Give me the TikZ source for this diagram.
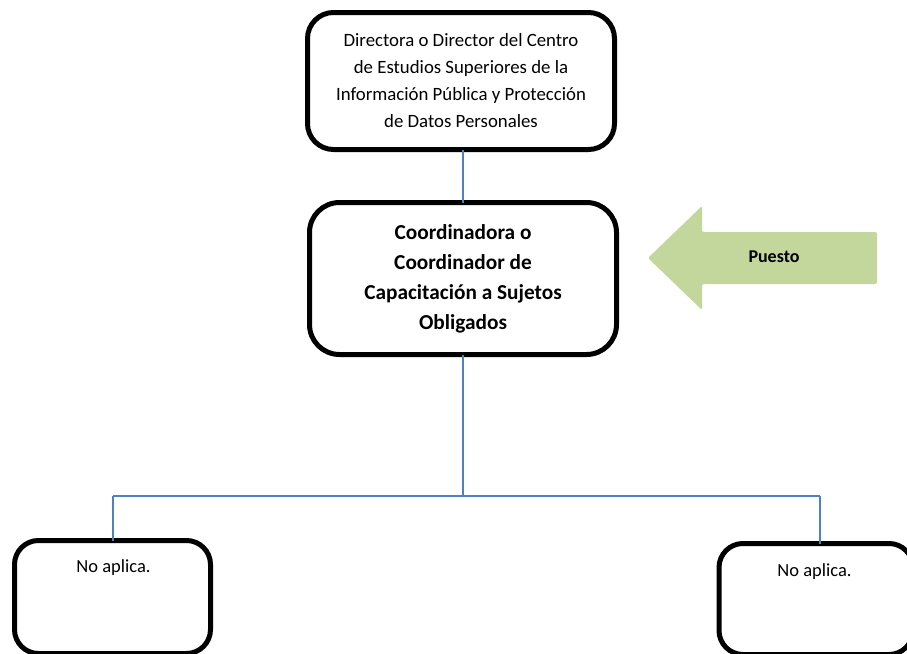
\documentclass[tikz,border=0pt]{standalone}
\usepackage{fontspec}
\setmainfont{Carlito}
\definecolor{conn}{RGB}{79,129,189}
\definecolor{arrowgreen}{RGB}{195,214,155}
\begin{document}
\begin{tikzpicture}[x=1pt,y=-1pt,
  box/.style={draw=black,line width=5pt,rounded corners=26pt,inner sep=0pt,outer sep=0pt,align=center},
  conline/.style={draw=conn,line width=1.8pt},
  toptext/.style={font=\fontsize{18.8}{27}\selectfont},
  midtext/.style={font=\fontsize{21.3}{30}\selectfont\bfseries},
  smalltext/.style={font=\fontsize{18.5}{20}\selectfont,inner sep=0pt}]
\useasboundingbox (0,0) rectangle (907,653);
\clip (0,0) rectangle (907,653);
\node[box,toptext,minimum width=307pt,minimum height=137pt] (top) at (461,81)
  {Directora o Director del Centro\\de Estudios Superiores de la\\Información Pública y Protección\\de Datos Personales};
\node[box,midtext,minimum width=307pt,minimum height=152pt,rounded corners=30pt] (mid) at (463,278.5)
  {Coordinadora o\\Coordinador de\\Capacitación a Sujetos\\Obligados};
\node[box,minimum width=196pt,minimum height=113pt,rounded corners=24pt] (left) at (112.5,597) {};
\node[box,minimum width=194pt,minimum height=111pt,rounded corners=24pt] (right) at (816,599) {};
\node[smalltext] (lt) at (113.5,568) {No aplica.};
\node[smalltext] (rt) at (814.5,572) {No aplica.};
\coordinate (hub) at (463,496);
\coordinate (lturn) at (113,496);
\coordinate (rturn) at (820,496);
\coordinate (rdrop) at (820,543.5);
\draw[conline] (top.south -| mid.north) -- (mid.north);
\draw[conline] (mid.south) -- (hub);
\draw[conline] (lturn) -- (rturn);
\draw[conline] (lturn) -- (lturn |- left.north);
\draw[conline] (rturn) -- (rdrop);
\fill[arrowgreen,rounded corners=2pt] (648,258) -- (702,206) -- (702,232) -- (877,232) -- (877,284) -- (702,284) -- (702,310) -- cycle;
\node[font=\fontsize{18}{20}\selectfont\bfseries] (puesto) at (774,257) {Puesto};
\end{tikzpicture}
\end{document}
